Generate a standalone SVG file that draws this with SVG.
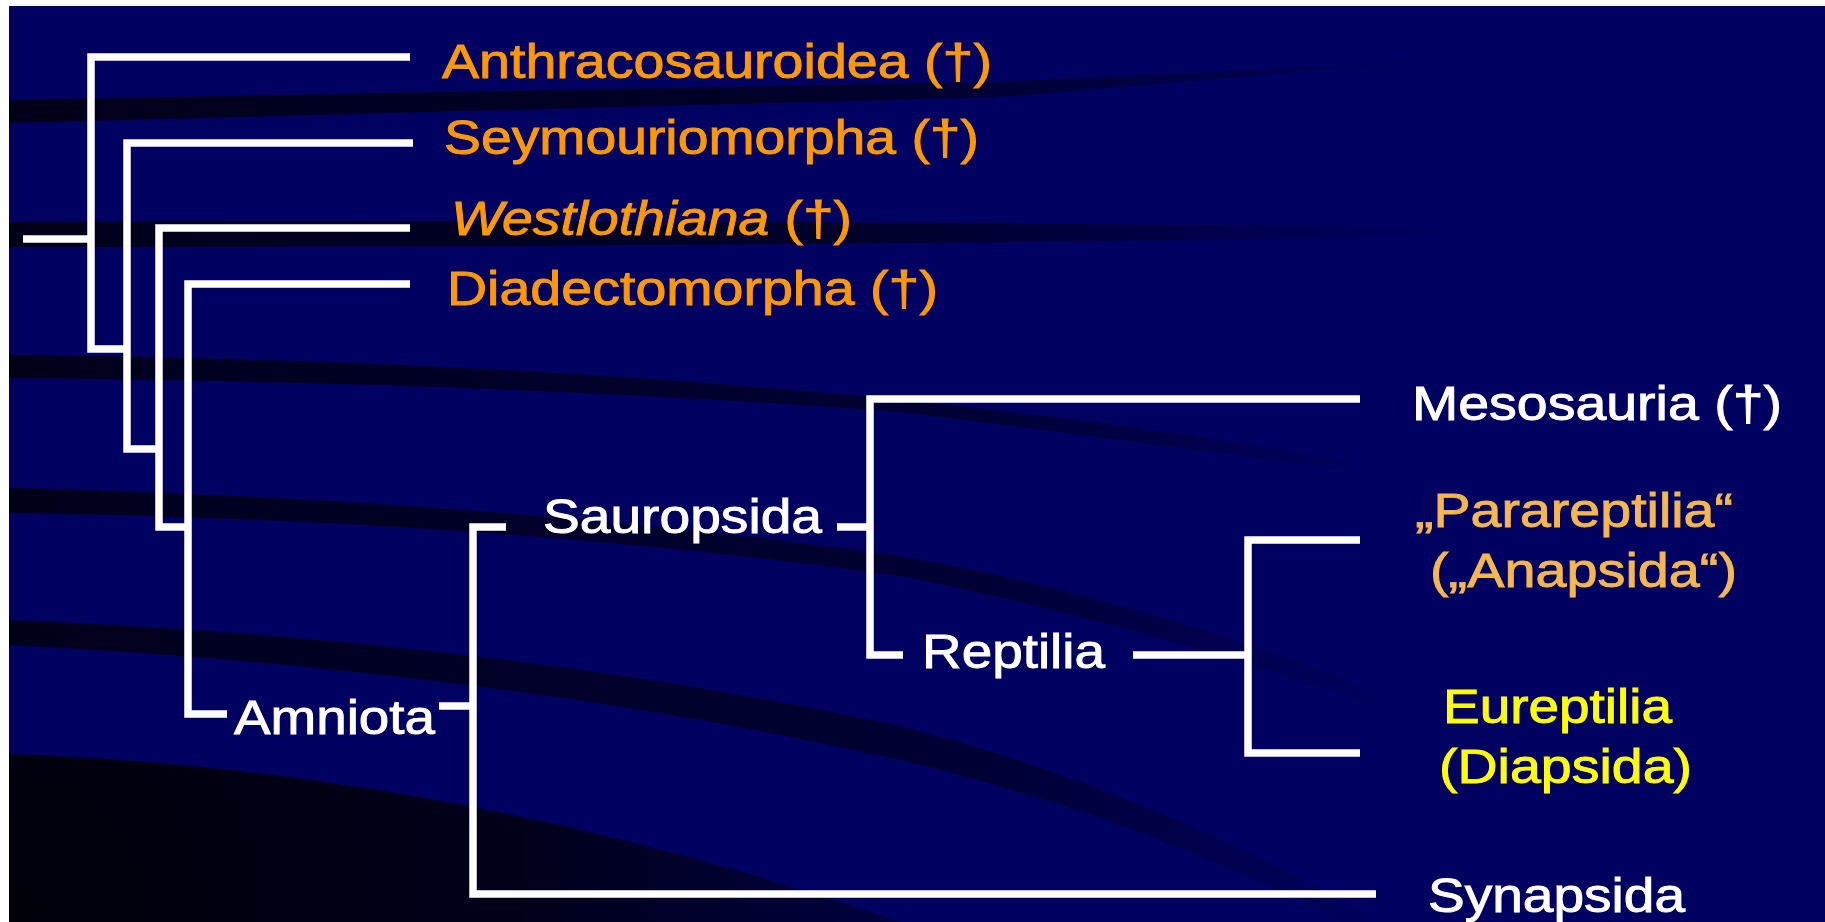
<svg xmlns="http://www.w3.org/2000/svg" width="1825" height="922" viewBox="0 0 1825 922">
<defs>
<linearGradient id="fade" gradientUnits="userSpaceOnUse" x1="0" y1="0" x2="1450" y2="0">
<stop offset="0" stop-color="#00001a"/>
<stop offset="0.6" stop-color="#00002a"/>
<stop offset="1" stop-color="#000060"/>
</linearGradient>
<linearGradient id="fade2" gradientUnits="userSpaceOnUse" x1="0" y1="0" x2="1400" y2="0">
<stop offset="0" stop-color="#00001a"/>
<stop offset="0.7" stop-color="#000035"/>
<stop offset="1" stop-color="#000060"/>
</linearGradient>
<radialGradient id="corner" gradientUnits="userSpaceOnUse" cx="0" cy="922" r="900">
<stop offset="0" stop-color="#000008"/>
<stop offset="0.6" stop-color="#00001c"/>
<stop offset="1" stop-color="#000040"/>
</radialGradient>
<style>
.ln{fill:none;stroke:#ffffff;stroke-width:7.5;stroke-linejoin:miter;stroke-linecap:butt}
.t{font-family:"Liberation Sans",Arial,sans-serif;font-size:48px;stroke-width:0.9px}
.o{fill:#ff9900;stroke:#ff9900}
.w{fill:#ffffff;stroke:#ffffff}
.p{fill:#f5b74e;stroke:#f5b74e}
.y{fill:#ffff00;stroke:#ffff00}
</style>
</defs>
<rect width="1825" height="922" fill="#ffffff"/>
<rect x="9" y="6" width="1816" height="916" fill="#000060"/>
<g id="background">
<path d="M9,100 L1000,82 L1450,60 L1000,97 L9,123 Z" fill="url(#fade)"/>
<path d="M9,222 C500,220 1000,222 1450,228 L1450,236 C1000,244 500,247 9,247 Z" fill="url(#fade)"/>
<path d="M9,355 Q500,360 900,400 Q1100,420 1350,460 L1350,470 Q1100,437 900,412 Q500,382 9,378 Z" fill="url(#fade2)"/>
<path d="M9,488 Q500,500 900,556 Q1150,600 1400,700 L1400,715 Q1150,625 900,576 Q500,520 9,513 Z" fill="url(#fade2)"/>
<path d="M9,620 Q500,640 900,726 Q1150,790 1380,922 L1340,922 Q1150,820 900,760 Q500,670 9,645 Z" fill="url(#fade2)"/>
<path d="M9,754 Q460,770 900,922 L9,922 Z" fill="url(#corner)"/>
</g>
<g id="connectors">
<path class="ln" d="M23,239 H91"/>
<path class="ln" d="M410,57 H91 V349 H127"/>
<path class="ln" d="M413,143 H127 V449 H159"/>
<path class="ln" d="M410,228 H159 V527 H188"/>
<path class="ln" d="M410,284 H188 V714 H227"/>
<path class="ln" d="M439,706 H473"/>
<path class="ln" d="M506,527 H473 V894 H1376"/>
<path class="ln" d="M837,527 H870"/>
<path class="ln" d="M1360,399 H870 V655 H903"/>
<path class="ln" d="M1133,655 H1248"/>
<path class="ln" d="M1360,540 H1248 V753 H1360"/>
</g>
<g id="n-anthracosauroidea"><text class="t o" x="442" y="78" textLength="550" lengthAdjust="spacingAndGlyphs">Anthracosauroidea (†)</text></g>
<g id="n-seymouriomorpha"><text class="t o" x="444" y="154" textLength="535" lengthAdjust="spacingAndGlyphs">Seymouriomorpha (†)</text></g>
<g id="n-westlothiana"><text class="t o" x="451" y="235" textLength="401" lengthAdjust="spacingAndGlyphs"><tspan font-style="italic">Westlothiana</tspan> (†)</text></g>
<g id="n-diadectomorpha"><text class="t o" x="447" y="305" textLength="491" lengthAdjust="spacingAndGlyphs">Diadectomorpha (†)</text></g>
<g id="n-amniota"><text class="t w" x="234" y="734" textLength="201" lengthAdjust="spacingAndGlyphs">Amniota</text></g>
<g id="n-sauropsida"><text class="t w" x="543" y="533" textLength="279" lengthAdjust="spacingAndGlyphs">Sauropsida</text></g>
<g id="n-reptilia"><text class="t w" x="922" y="668" textLength="183" lengthAdjust="spacingAndGlyphs">Reptilia</text></g>
<g id="n-mesosauria"><text class="t w" x="1412" y="420" textLength="370" lengthAdjust="spacingAndGlyphs">Mesosauria (†)</text></g>
<g id="n-parareptilia">
<text class="t p" x="1415" y="527" textLength="318" lengthAdjust="spacingAndGlyphs">„Parareptilia“</text>
<text class="t p" x="1430" y="587" textLength="307" lengthAdjust="spacingAndGlyphs">(„Anapsida“)</text>
</g>
<g id="n-eureptilia">
<text class="t y" x="1443" y="723" textLength="229" lengthAdjust="spacingAndGlyphs">Eureptilia</text>
<text class="t y" x="1439" y="783" textLength="253" lengthAdjust="spacingAndGlyphs">(Diapsida)</text>
</g>
<g id="n-synapsida"><text class="t w" x="1428" y="912" textLength="257" lengthAdjust="spacingAndGlyphs">Synapsida</text></g>
</svg>
